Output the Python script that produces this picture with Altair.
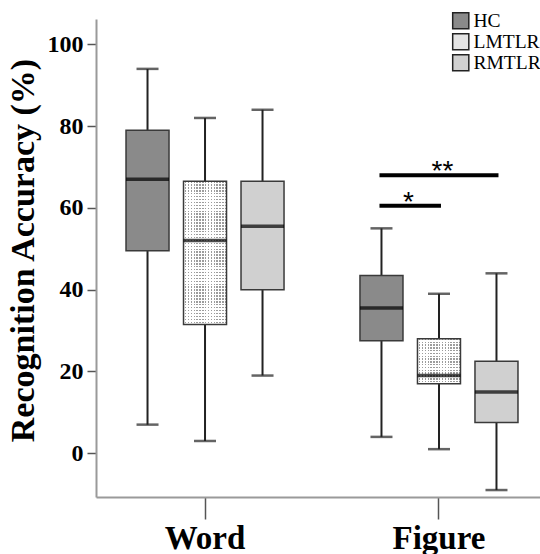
import altair as alt
import pandas as pd

# ---- data ----
categories = ["Word", "Word", "Word", "Figure", "Figure", "Figure"]
groups = ["HC", "LMTLR", "RMTLR", "HC", "LMTLR", "RMTLR"]
lower = [7, 3, 19, 4, 1, -9]
q1 = [49.5, 31.5, 40, 27.5, 17, 7.5]
median = [67, 52, 55.5, 35.5, 19, 15]
q3 = [79, 66.5, 66.5, 43.5, 28, 22.5]
upper = [94, 82, 84, 55, 39, 44]

sig_cat = ["Figure", "Figure"]
sig_from = ["HC", "HC"]
sig_to = ["LMTLR", "RMTLR"]
sig_y = [60.5, 68]
sig_label = ["*", "**"]

cat_order = ["Word", "Figure"]
group_order = ["HC", "LMTLR", "RMTLR"]
group_colors = ["#8a8a8a", "#e4e4e4", "#d0d0d0"]

df = pd.DataFrame({"cat": categories, "group": groups, "lower": lower, "q1": q1,
                   "median": median, "q3": q3, "upper": upper})

# significance bars as two-point lines (start group -> end group)
sig_rows = []
for i in range(len(sig_y)):
    sig_rows.append({"pair": i, "cat": sig_cat[i], "group": sig_from[i], "y": sig_y[i], "label": sig_label[i]})
    sig_rows.append({"pair": i, "cat": sig_cat[i], "group": sig_to[i], "y": sig_y[i], "label": sig_label[i]})
sig_df = pd.DataFrame(sig_rows)
star_df = pd.DataFrame({"cat": sig_cat, "y": sig_y, "label": sig_label,
                        "from": sig_from, "to": sig_to})

SERIF = "Liberation Serif"
PLOT_H = 478
Y_DOMAIN = [-10.7, 106.2]

xscale = alt.Scale(domain=cat_order, paddingInner=0.068, paddingOuter=0, range=[0, 452])
xoff = alt.Scale(domain=group_order, paddingInner=0.252, paddingOuter=0.522)
yscale = alt.Scale(domain=Y_DOMAIN, nice=False, zero=False)

X = alt.X("cat:N", scale=xscale, sort=cat_order,
          axis=alt.Axis(title=None, labelAngle=0, labelFont=SERIF, labelFontSize=33,
                        labelFontWeight="bold", labelColor="black", tickSize=22,
                        labelPadding=3, tickColor="#555", tickWidth=1.5,
                        domainColor="#9a9a9a", domainWidth=2))
XO = alt.XOffset("group:N", scale=xoff, sort=group_order)
Y = alt.Y("lower:Q", scale=yscale,
          axis=alt.Axis(title="Recognition Accuracy (%)", values=[0, 20, 40, 60, 80, 100],
                        grid=False, labelFont=SERIF, labelFontSize=24, labelFontWeight="bold",
                        labelColor="black", tickSize=9, tickColor="#555", tickWidth=1.5,
                        labelPadding=4, domainColor="#9a9a9a", domainWidth=2,
                        titleFont=SERIF, titleFontSize=34, titleFontWeight="bold",
                        titleColor="black", titlePadding=7, titleY=231))

base = alt.Chart(df)

whisker = base.mark_rule(color="#222", strokeWidth=2).encode(
    x=X, xOffset=XO, y=Y, y2="upper:Q")

# dotted texture for LMTLR: vertical grey stripes, crossed by white horizontal stripes
PERIOD = 2.9
def stripes(n, c1, c2, vertical):
    st = []
    for i in range(n):
        a, b, c = i / n, (i + 0.5) / n, (i + 1) / n
        st += [{"offset": a, "color": c1}, {"offset": b, "color": c1},
               {"offset": b, "color": c2}, {"offset": c, "color": c2}]
    if vertical:
        return {"gradient": "linear", "x1": 0, "y1": 0, "x2": 1, "y2": 0, "stops": st}
    return {"gradient": "linear", "x1": 0, "y1": 0, "x2": 0, "y2": 1, "stops": st}

vstripes = stripes(15, "#ffffff", "#9c9c9c", True)
ppu = PLOT_H / (Y_DOMAIN[1] - Y_DOMAIN[0])
lm = df[df.group == "LMTLR"].set_index("cat")
n_word = max(1, round((lm.loc["Word", "q3"] - lm.loc["Word", "q1"]) * ppu / PERIOD))
n_fig = max(1, round((lm.loc["Figure", "q3"] - lm.loc["Figure", "q1"]) * ppu / PERIOD))
h_word = stripes(n_word, "rgba(255,255,255,0)", "rgba(255,255,255,1)", False)
h_fig = stripes(n_fig, "rgba(255,255,255,0)", "rgba(255,255,255,1)", False)

box = base.mark_bar(strokeWidth=0).encode(
    x=X, xOffset=XO,
    y=alt.Y("q1:Q", scale=yscale), y2="q3:Q",
    fill=alt.condition(
        "datum.group === 'LMTLR'", alt.value(vstripes),
        alt.Fill("group:N", scale=alt.Scale(domain=group_order, range=group_colors),
                 legend=alt.Legend(title=None, orient="none", legendX=355, legendY=-8,
                                   symbolType="square", symbolSize=260,
                                   symbolStrokeColor="#222", symbolStrokeWidth=1.5,
                                   symbolOpacity=1, labelFont=SERIF, labelFontSize=19.5,
                                   labelColor="black", rowPadding=-2.5, padding=0,
                                   labelOffset=3))))

texture = base.transform_filter("datum.group === 'LMTLR'").mark_bar(strokeWidth=0).encode(
    x=X, xOffset=XO,
    y=alt.Y("q1:Q", scale=yscale), y2="q3:Q",
    fill=alt.condition("datum.cat === 'Word'", alt.value(h_word), alt.value(h_fig)))

outline = base.mark_bar(fillOpacity=0, stroke="#3a3a3a", strokeWidth=1.5).encode(
    x=X, xOffset=XO, y=alt.Y("q1:Q", scale=yscale), y2="q3:Q")

med = base.mark_tick(color="black", thickness=3.5, size=43, orient="horizontal").encode(
    x=X, xOffset=XO, y=alt.Y("median:Q", scale=yscale))
cap_lo = base.mark_tick(color="#222", thickness=2.5, size=22, orient="horizontal").encode(
    x=X, xOffset=XO, y=alt.Y("lower:Q", scale=yscale))
cap_hi = base.mark_tick(color="#222", thickness=2.5, size=22, orient="horizontal").encode(
    x=X, xOffset=XO, y=alt.Y("upper:Q", scale=yscale))

sig_line = alt.Chart(sig_df).mark_line(color="black", strokeWidth=4, strokeCap="square").encode(
    x=alt.X("cat:N", scale=xscale, sort=cat_order),
    xOffset=alt.XOffset("group:N", scale=xoff, sort=group_order),
    y=alt.Y("y:Q", scale=yscale),
    detail="pair:N")

star_style = dict(font="Liberation Sans", fontSize=28, color="black", baseline="alphabetic", dy=5)
star1 = alt.Chart(star_df).transform_filter("datum.label === '*'").mark_text(dx=27, **star_style).encode(
    x=alt.X("cat:N", scale=xscale, sort=cat_order),
    xOffset=alt.XOffset("from:N", scale=xoff, sort=group_order),
    y=alt.Y("y:Q", scale=yscale), text="label:N")
star2 = alt.Chart(star_df).transform_filter("datum.label === '**'").mark_text(dx=61, **star_style).encode(
    x=alt.X("cat:N", scale=xscale, sort=cat_order),
    xOffset=alt.XOffset("from:N", scale=xoff, sort=group_order),
    y=alt.Y("y:Q", scale=yscale), text="label:N")

chart = alt.layer(whisker, box, texture, outline, med, cap_lo, cap_hi, sig_line, star1, star2).properties(
    width=444, height=PLOT_H,
    autosize=alt.AutoSizeParams(type="none"),
    padding={"left": 96, "top": 19, "right": 0, "bottom": 57},
).configure_view(stroke=None)

chart.save("out.html", embed_options={"renderer": "svg", "actions": False})
